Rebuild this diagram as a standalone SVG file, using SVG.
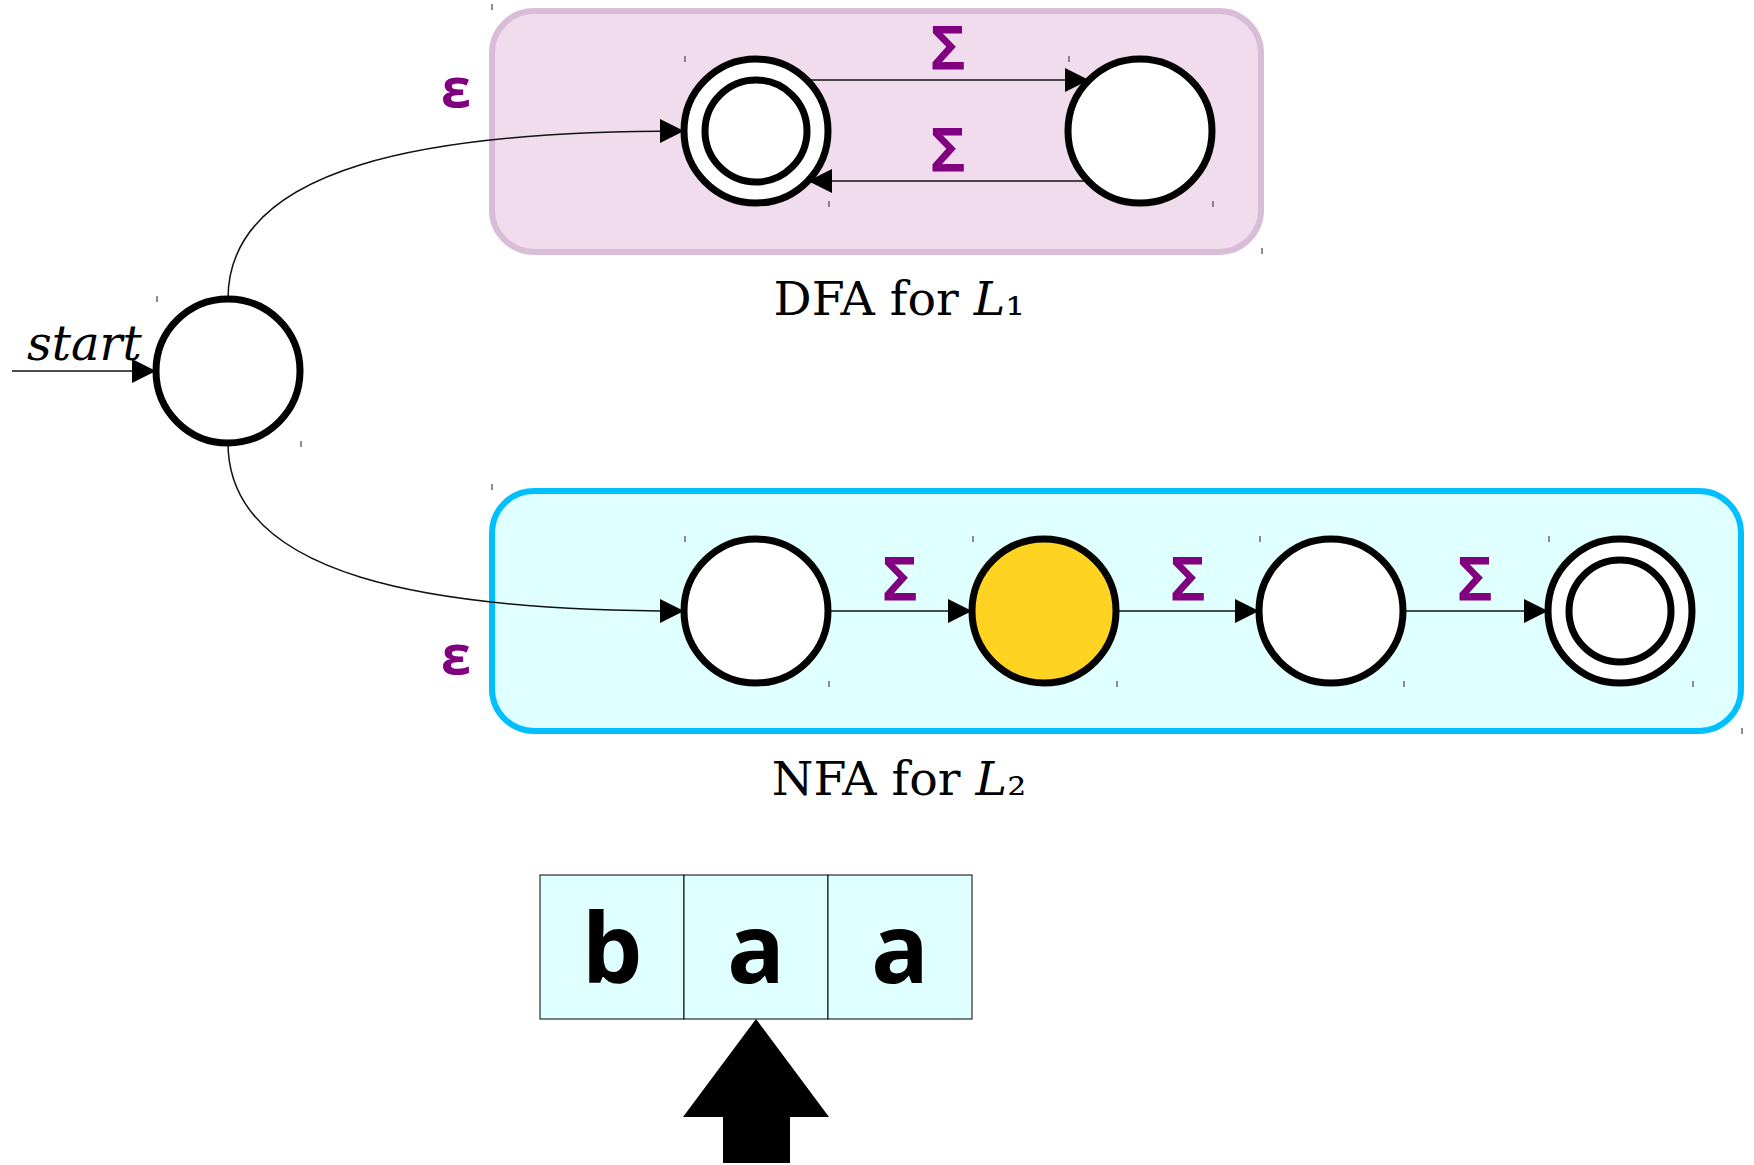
<svg xmlns="http://www.w3.org/2000/svg" width="1754" height="1165" viewBox="0 0 1754 1165">
<defs>
<marker id="arr" markerUnits="userSpaceOnUse" markerWidth="24" markerHeight="24" refX="22" refY="11" orient="auto" viewBox="0 0 22 22">
<path d="M0,0 L22,11 L0,22 z" fill="#000"/>
</marker>
<style>
.state{fill:#fff;stroke:#000;stroke-width:7}
.cur{fill:#fed321;stroke:#000;stroke-width:7}
.edge{fill:none;stroke:#111;stroke-width:1.5;marker-end:url(#arr)}
.tick{stroke:#444;stroke-width:1.2}
.sym{font-family:"Open Sans","DejaVu Sans",sans-serif;font-weight:700;font-size:60px;fill:#800080;text-anchor:middle}
.eps{font-family:"Open Sans","DejaVu Sans",sans-serif;font-weight:700;font-size:54px;fill:#800080;text-anchor:middle}
.cap{font-family:"DejaVu Serif",serif;font-size:47.5px;fill:#000;text-anchor:middle}
.tape{fill:#e0ffff;stroke:#000;stroke-width:1}
.tl{font-family:"Open Sans","DejaVu Sans",sans-serif;font-weight:700;font-size:96px;fill:#000;text-anchor:middle}
</style>
</defs>
<rect width="1754" height="1165" fill="#fff"/>

<g id="dfa-box">
<rect x="492" y="11" width="769" height="241" rx="42" fill="#f0dcec" stroke="#d8bcd8" stroke-width="6"/>
<line class="tick" x1="492" y1="4" x2="492" y2="10"/>
<line class="tick" x1="1262" y1="248" x2="1262" y2="254"/>
<text class="cap" x="899" y="315">DFA for <tspan font-style="italic">L</tspan>₁</text>
</g>
<g id="nfa-box">
<rect x="492" y="491" width="1249" height="240" rx="42" fill="#e0ffff" stroke="#00bfff" stroke-width="6"/>
<line class="tick" x1="492" y1="484" x2="492" y2="490"/>
<line class="tick" x1="1742" y1="728" x2="1742" y2="734"/>
<text class="cap" x="899" y="795">NFA for <tspan font-style="italic">L</tspan>₂</text>
</g>

<g id="connectors">
<line x1="12" y1="371" x2="156" y2="371" class="edge"/>
<path class="edge" d="M228,299 C228,165 430,131 684,131"/>
<path class="edge" d="M228,443 C228,577 430,611 684,611"/>
<line class="edge" x1="808" y1="80" x2="1089" y2="80"/>
<line class="edge" x1="1089" y1="181" x2="808" y2="181"/>
<line class="edge" x1="828" y1="611" x2="972" y2="611"/>
<line class="edge" x1="1116" y1="611" x2="1259" y2="611"/>
<line class="edge" x1="1403" y1="611" x2="1548" y2="611"/>
<text class="sym" x="948" y="70">Σ</text>
<text class="sym" x="948" y="172">Σ</text>
<text class="sym" x="900" y="601">Σ</text>
<text class="sym" x="1188" y="601">Σ</text>
<text class="sym" x="1475" y="601">Σ</text>
<text class="eps" x="456" y="107">ε</text>
<text class="eps" x="456" y="674">ε</text>
</g>

<g id="start-label">
<text x="27" y="360" font-family="DejaVu Serif,serif" font-style="italic" font-size="48" fill="#000">start</text>
</g>

<g id="q0">
<circle class="state" cx="228" cy="371" r="72"/>
<line class="tick" x1="157" y1="296" x2="157" y2="302"/>
<line class="tick" x1="301" y1="441" x2="301" y2="447"/>
</g>
<g id="d0">
<circle class="state" cx="756" cy="131" r="72"/>
<circle class="state" cx="756" cy="131" r="51"/>
<line class="tick" x1="685" y1="56" x2="685" y2="62"/>
<line class="tick" x1="829" y1="201" x2="829" y2="207"/>
</g>
<g id="d1">
<circle class="state" cx="1140" cy="131" r="72"/>
<line class="tick" x1="1069" y1="56" x2="1069" y2="62"/>
<line class="tick" x1="1213" y1="201" x2="1213" y2="207"/>
</g>
<g id="n0">
<circle class="state" cx="756" cy="611" r="72"/>
<line class="tick" x1="685" y1="536" x2="685" y2="542"/>
<line class="tick" x1="829" y1="681" x2="829" y2="687"/>
</g>
<g id="n1">
<circle class="cur" cx="1044" cy="611" r="72"/>
<line class="tick" x1="973" y1="536" x2="973" y2="542"/>
<line class="tick" x1="1117" y1="681" x2="1117" y2="687"/>
</g>
<g id="n2">
<circle class="state" cx="1331" cy="611" r="72"/>
<line class="tick" x1="1260" y1="536" x2="1260" y2="542"/>
<line class="tick" x1="1404" y1="681" x2="1404" y2="687"/>
</g>
<g id="n3">
<circle class="state" cx="1620" cy="611" r="72"/>
<circle class="state" cx="1620" cy="611" r="51"/>
<line class="tick" x1="1549" y1="536" x2="1549" y2="542"/>
<line class="tick" x1="1693" y1="681" x2="1693" y2="687"/>
</g>

<g id="tape">
<rect class="tape" x="540" y="875" width="144" height="144"/>
<rect class="tape" x="684" y="875" width="144" height="144"/>
<rect class="tape" x="828" y="875" width="144" height="144"/>
<text class="tl" x="612" y="983">b</text>
<text class="tl" x="756" y="983">a</text>
<text class="tl" x="900" y="983">a</text>
</g>
<g id="head">
<path d="M756,1019 L829,1117 L790,1117 L790,1163 L723,1163 L723,1117 L683,1117 z" fill="#000"/>
</g>
</svg>
